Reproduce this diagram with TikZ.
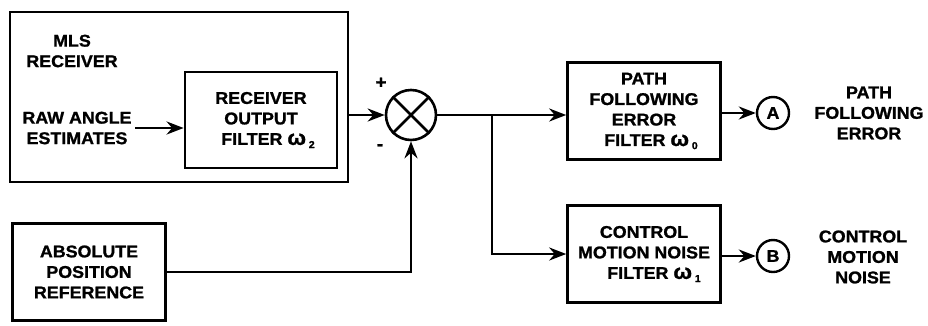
\documentclass[tikz,border=0pt]{standalone}
\usepackage{fontspec}
\setmainfont[FakeStretch=1.05, BoldFeatures={FakeBold=1.2}]{Liberation Sans}
\usetikzlibrary{arrows.meta,positioning}
\newcommand{\wsym}{{\fontsize{21}{20}\selectfont ω}}
\newcommand{\wsub}[1]{\,\raisebox{-0.35ex}{\fontsize{10}{10}\selectfont #1}}

\begin{document}
\begin{tikzpicture}[
  x=1pt, y=-1pt,
  blk/.style={
    draw, line width=2.6pt, minimum width=153pt, minimum height=97pt,
    inner sep=0pt, align=center, font=\bfseries\fontsize{17}{20.5}\selectfont
  },
  txt/.style={align=center, font=\bfseries\fontsize{17}{20.5}\selectfont},
  wire/.style={line width=2.6pt},
  arrow/.style={-{Stealth[length=17pt,width=13pt]}, line width=2.6pt},
  pt/.style={draw, circle, line width=2.4pt, minimum size=32pt, inner sep=0pt,
    font=\bfseries\fontsize{17}{17}\selectfont},
  sgn/.style={font=\bfseries\fontsize{18}{18}\selectfont}
]
\useasboundingbox (0,0) rectangle (928,325);

% MLS receiver block
\node[draw, line width=2.8pt, minimum width=338pt, minimum height=170pt] (mls) at (179,97) {};
\node[txt] (mlstxt) at (72,51) {MLS\\RECEIVER};
\node[txt] (raw) at (77,128) {RAW ANGLE\\ESTIMATES};
\node[blk, line width=2.8pt, minimum width=152pt, minimum height=96pt] (filt) at (261,120) {RECEIVER\\OUTPUT\\\hspace*{14pt}FILTER \wsym\wsub{2}};

\node[blk] (abs) at (89,272) {ABSOLUTE\\POSITION\\REFERENCE};

% summing junction
\node[draw, circle, line width=2.6pt, minimum size=50pt, inner sep=0pt] (sum) at (411,115) {};
\draw[wire] (sum.north east) -- (sum.south west) (sum.north west) -- (sum.south east);
\node[sgn] (plus) at (381,83) {+};
\node[sgn] (minus) at (380,147) {-};

\node[blk] (path) at (644,111) {PATH\\FOLLOWING\\ERROR\\\hspace*{14pt}FILTER \wsym\wsub{0}};
\node[blk] (ctrl) at (644,254) {CONTROL\\MOTION NOISE\\\hspace*{20pt}FILTER \wsym\wsub{1}};

\node[pt] (ptA) at (773,113) {A};
\node[pt] (ptB) at (773,256) {B};
\node[txt] (lblA) at (869,113) {PATH\\FOLLOWING\\ERROR};
\node[txt] (lblB) at (863,257) {CONTROL\\MOTION\\NOISE};

\coordinate (split) at (492,115);

\draw[arrow] (raw.east) -- (raw.east -| filt.west);
\draw[arrow] (mls.east |- sum.west) -- (sum.west);
\draw[arrow] (abs.east) -| (sum.south);
\draw[arrow] (sum.east) -- (sum.east -| path.west);
\draw[arrow] (split) |- (ctrl.west);
\draw[arrow] (path.east |- ptA.west) -- (ptA.west);
\draw[arrow] (ctrl.east |- ptB.west) -- (ptB.west);
\end{tikzpicture}
\end{document}
